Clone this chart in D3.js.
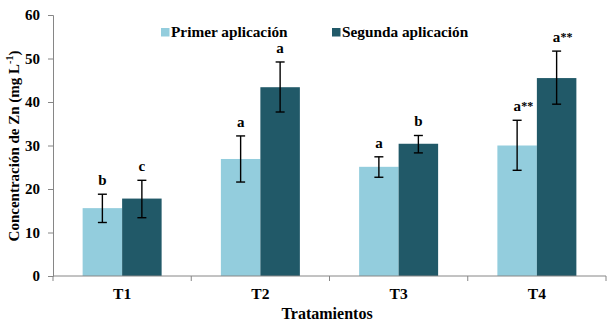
<!DOCTYPE html>
<html><head><meta charset="utf-8">
<script src="https://cdn.jsdelivr.net/npm/d3@7"></script>
<style>body{margin:0;background:#fff}svg{display:block}text{font-family:"Liberation Serif","Times New Roman",serif;font-weight:bold}</style>
</head><body>
<svg id="c" width="609" height="329"></svg>
<script>
const categories = ["T1","T2","T3","T4"];
const series = ["Primer aplicación","Segunda aplicación"];
const primer = [15.6, 26.9, 25.1, 30.0];
const primerErrHi = [18.8, 32.2, 27.4, 35.8];
const primerErrLo = [12.3, 21.6, 22.7, 24.3];
const segunda = [17.8, 43.4, 30.4, 45.5];
const segundaErrHi = [22.0, 49.2, 32.3, 51.7];
const segundaErrLo = [13.4, 37.7, 28.3, 39.5];
const primerLetters = ["b","a","a","a**"];
const segundaLetters = ["c","a","b","a**"];
const yTicks = [0,10,20,30,40,50,60];

const colors = ["#93CDDD","#215968"];
const svg = d3.select("#c");
const x0 = 53, x1 = 606, yTop = 15, yBot = 276;

const x = d3.scaleBand().domain(categories).range([x0,x1]).paddingInner(0.4286).paddingOuter(0.2143);
const xs = d3.scaleBand().domain(series).range([0, x.bandwidth()]);
const y = d3.scaleLinear().domain([0,60]).range([yBot,yTop]);

const rows = categories.map((c,i)=>[
  {c, s:series[0], v:primer[i], hi:primerErrHi[i], lo:primerErrLo[i], l:primerLetters[i], k:0},
  {c, s:series[1], v:segunda[i], hi:segundaErrHi[i], lo:segundaErrLo[i], l:segundaLetters[i], k:1}
]).flat();

// bars
svg.append("g").selectAll("rect").data(rows).join("rect")
  .attr("x", d=>x(d.c)+xs(d.s)).attr("width", xs.bandwidth())
  .attr("y", d=>y(d.v)).attr("height", d=>y(0)-y(d.v))
  .attr("fill", d=>colors[d.k]);

// error bars
const eb = svg.append("g").attr("stroke","#000").attr("stroke-width",1.4);
rows.forEach(d=>{
  const cx = x(d.c)+xs(d.s)+xs.bandwidth()/2;
  eb.append("line").attr("x1",cx).attr("x2",cx).attr("y1",y(d.hi)).attr("y2",y(d.lo));
  eb.append("line").attr("x1",cx-4.5).attr("x2",cx+4.5).attr("y1",y(d.hi)).attr("y2",y(d.hi));
  eb.append("line").attr("x1",cx-4.5).attr("x2",cx+4.5).attr("y1",y(d.lo)).attr("y2",y(d.lo));
  const letter = d.l.replace(/\*/g,"");
  const stars = d.l.slice(letter.length);
  const ty = y(d.hi) - 9;
  svg.append("text").attr("x",cx).attr("y",ty).attr("text-anchor","middle")
    .attr("font-size",15).attr("fill","#000").text(letter);
  if (stars) svg.append("text").attr("x",cx+4).attr("y",ty-1).attr("text-anchor","start")
    .attr("font-size",12).attr("fill","#000").text(stars);
});

// y axis
const ya = svg.append("g").attr("transform",`translate(${x0},0)`)
  .call(d3.axisLeft(y).tickValues(yTicks).tickSize(5).tickPadding(8));
ya.select(".domain").attr("stroke","#868686");
ya.selectAll(".tick line").attr("stroke","#868686");
ya.selectAll(".tick text").attr("font-size",15).attr("fill","#000")
  .attr("font-family","Liberation Serif, serif").attr("font-weight","bold");

// x axis
const xa = svg.append("g").attr("transform",`translate(0,${yBot})`)
  .call(d3.axisBottom(x).tickSize(0).tickPadding(12));
xa.select(".domain").attr("stroke","#868686").attr("d",`M${x0},0H${x1}`);
xa.selectAll(".tick text").attr("font-size",15.5).attr("fill","#000")
  .attr("font-family","Liberation Serif, serif").attr("font-weight","bold");
// category boundary ticks
const bounds = categories.map(c=>x(c)-x.step()*x.paddingInner()/2).concat([x1]);
svg.append("g").selectAll("line").data(bounds).join("line")
  .attr("x1",d=>d).attr("x2",d=>d).attr("y1",yBot).attr("y2",yBot+5)
  .attr("stroke","#868686");

// axis titles
svg.append("text").attr("x",327).attr("y",319).attr("text-anchor","middle")
  .attr("font-size",16).text("Tratamientos");
const yt = svg.append("text").attr("transform","translate(19,146) rotate(-90)")
  .attr("text-anchor","middle").attr("font-size",15);
yt.append("tspan").text("Concentración de Zn (mg L");
yt.append("tspan").attr("font-size",10).attr("dy",-6).text("-1");
yt.append("tspan").attr("dy",6).text(")");

// legend
const lg = svg.append("g");
const lx = [161, 332];
series.forEach((s,i)=>{
  lg.append("rect").attr("x",lx[i]).attr("y",28).attr("width",8.5).attr("height",8.5).attr("fill",colors[i]);
  lg.append("text").attr("x",lx[i]+10).attr("y",37).attr("font-size",15.3).text(s);
});
</script>
</body></html>
